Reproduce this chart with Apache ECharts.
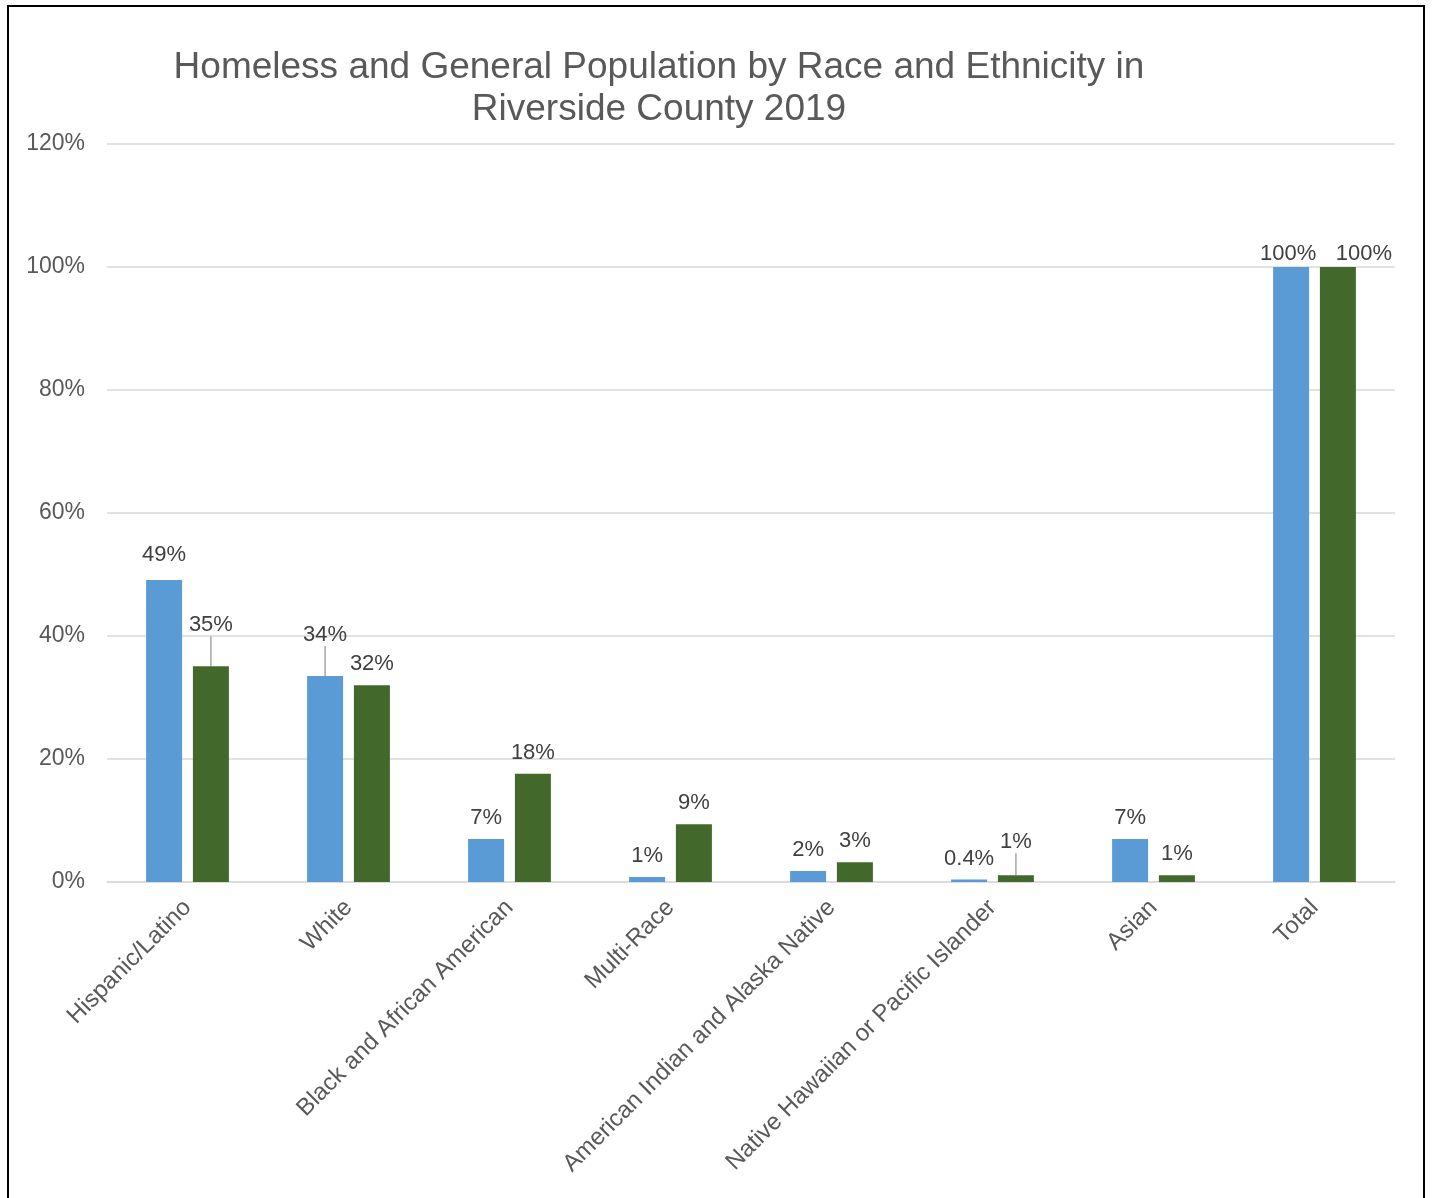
<!DOCTYPE html>
<html>
<head>
<meta charset="utf-8">
<script src="https://cdn.jsdelivr.net/npm/echarts@6/dist/echarts.min.js"></script>
<style>
html,body{margin:0;padding:0;background:#fff;}
#c{width:1432px;height:1198px;}
</style>
</head>
<body>
<div id="c"></div>
<script>
var categories = ["Hispanic/Latino","White","Black and African American","Multi-Race","American Indian and Alaska Native","Native Hawaiian or Pacific Islander","Asian","Total"];
var homeless = [49.1, 33.5, 7.0, 0.8, 1.8, 0.4, 7.0, 100];
var general = [35.1, 32.0, 17.6, 9.4, 3.2, 1.1, 1.1, 100];
var homelessLabels = ["49%","34%","7%","1%","2%","0.4%","7%","100%"];
var generalLabels = ["35%","32%","18%","9%","3%","1%","1%","100%"];
var yTicks = [0, 20, 40, 60, 80, 100, 120];

// label displacements (pixels) for labels that were moved; leader lines shown where flagged
var homelessShift = {0: [0, -4, false], 1: [0, -20, true], 7: [-3, 8, false]};
var generalShift = {0: [0, -20, true], 5: [0, -12, true], 7: [26, 8, false]};

function items(vals, shifts) {
  return vals.map(function (v, i) {
    var s = shifts[i];
    return { value: v, labelLine: { show: !!(s && s[2]) } };
  });
}

var chart = echarts.init(document.getElementById('c'), null, {renderer: 'canvas'});
var font = '"Liberation Sans", Arial, sans-serif';
var labelStyle = {show: true, position: 'top', distance: 10, fontSize: 22, color: '#404040', fontFamily: font};

chart.setOption({
  animation: false,
  backgroundColor: '#fff',
  title: {
    text: 'Homeless and General Population by Race and Ethnicity in\nRiverside County 2019',
    left: 654, top: 42, textAlign: 'center',
    textStyle: {fontSize: 37, fontWeight: 'normal', color: '#595959', fontFamily: font, lineHeight: 42}
  },
  graphic: [{
    type: 'rect', shape: {x: 8, y: 6, width: 1416, height: 1300},
    style: {fill: 'none', stroke: '#000', lineWidth: 2}, silent: true, z: 100
  }],
  grid: {left: 107, right: 37, top: 144, bottom: 316, containLabel: false},
  xAxis: {
    type: 'category', data: categories,
    axisLine: {lineStyle: {color: '#d9d9d9', width: 1.5}},
    axisTick: {show: false},
    axisLabel: {rotate: 45, margin: 22, fontSize: 24, color: '#595959', fontFamily: font, interval: 0}
  },
  yAxis: {
    type: 'value', min: 0, max: 120, interval: 20,
    axisLine: {show: false}, axisTick: {show: false},
    splitLine: {lineStyle: {color: '#d9d9d9', width: 1.5}},
    axisLabel: {fontSize: 23, color: '#595959', fontFamily: font, margin: 22,
      formatter: function (v) { return yTicks.indexOf(v) >= 0 ? v + '%' : ''; }}
  },
  series: [{
    name: 'Homeless', type: 'bar', data: items(homeless, homelessShift),
    barWidth: 36, barGap: '30%',
    itemStyle: {color: '#5b9bd5'},
    label: Object.assign({}, labelStyle, {formatter: function (p) { return homelessLabels[p.dataIndex]; }}),
    labelLine: {show: false, lineStyle: {color: '#a6a6a6', width: 1.5}},
    labelLayout: function (p) {
      var s = homelessShift[p.dataIndex];
      return s ? {dx: s[0], dy: s[1]} : {};
    }
  }, {
    name: 'General', type: 'bar', data: items(general, generalShift),
    barWidth: 36,
    itemStyle: {color: '#43682b'},
    label: Object.assign({}, labelStyle, {formatter: function (p) { return generalLabels[p.dataIndex]; }}),
    labelLine: {show: false, lineStyle: {color: '#a6a6a6', width: 1.5}},
    labelLayout: function (p) {
      var s = generalShift[p.dataIndex];
      return s ? {dx: s[0], dy: s[1]} : {};
    }
  }]
});
</script>
</body>
</html>
